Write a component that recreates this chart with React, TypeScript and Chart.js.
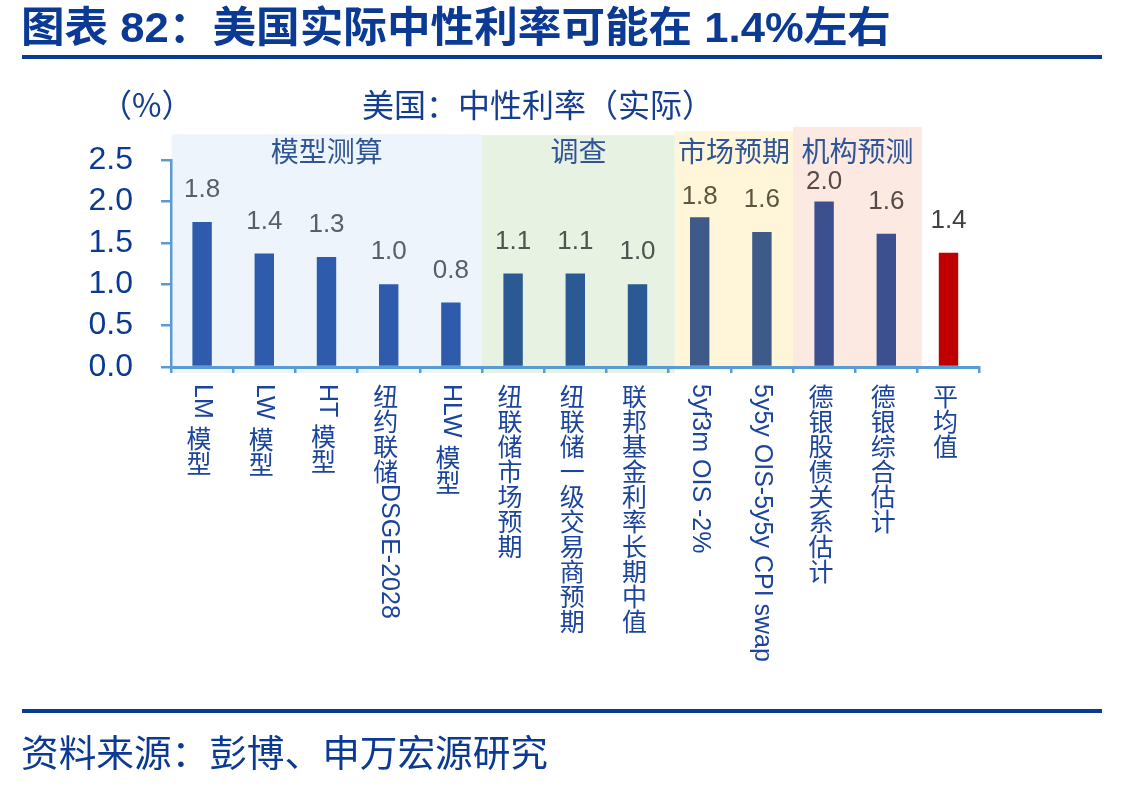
import React, { useEffect, useLayoutEffect, useRef } from 'react';
import { Chart, registerables } from 'chart.js';

Chart.register(...registerables);

// ---------- data ----------
const categories = [
  'LM 模型',
  'LW 模型',
  'HT 模型',
  '纽约联储DSGE-2028',
  'HLW 模型',
  '纽联储市场预期',
  '纽联储一级交易商预期',
  '联邦基金利率长期中值',
  '5yf3m OIS -2%',
  '5y5y OIS-5y5y CPI swap',
  '德银股债关系估计',
  '德银综合估计',
  '平均值',
];
const values = [1.75, 1.37, 1.33, 1.0, 0.78, 1.13, 1.13, 1.0, 1.81, 1.63, 2.0, 1.61, 1.38];
const valueLabels = ['1.8', '1.4', '1.3', '1.0', '0.8', '1.1', '1.1', '1.0', '1.8', '1.6', '2.0', '1.6', '1.4'];
const yTicks = [0, 0.5, 1.0, 1.5, 2.0, 2.5];
const groupNames = ['模型测算', '调查', '市场预期', '机构预测'];
// group extents in category-index units
const groupStart = [-0.49, 4.5, 7.6, 9.5];
const groupEnd = [4.5, 7.6, 9.5, 11.57];

// ---------- styles ----------
const DARK_BLUE = '#0B3A95';
const AXIS_BLUE = '#5B9BD5';
const barColors = [
  '#2E5BAC', '#2E5BAC', '#2E5BAC', '#2E5BAC', '#2E5BAC',
  '#2A5993', '#2A5993', '#2A5993',
  '#3E5A88', '#3E5A88',
  '#3C4F8E', '#3C4F8E',
  '#C00000',
];
const labelColors = [
  '#5A5F66', '#5A5F66', '#5A5F66', '#5A5F66', '#5A5F66',
  '#4C5550', '#4C5550', '#4C5550',
  '#5E5540', '#5E5540',
  '#574A47', '#574A47',
  '#404040',
];
const labelOffsets = [32, 32, 32, 32, 32, 32, 32, 32, 20, 32, 20, 32, 32];
const groupColors = ['#EDF4FB', '#E8F2E2', '#FFF6DA', '#FCEAE2'];
const groupTop = [2.81, 2.8, 2.85, 2.9];
const groupBottom = [-0.072, -0.072, -0.036, 0.0];
const groupLabelValue = 2.6;

const CJK_FONT = '"Noto Sans CJK SC"';
const LATIN_FONT = '"Liberation Sans", Arial';

const isCJK = (ch: string) => /[\u3000-\u9fff\uff00-\uffef]/.test(ch);

const bandsPlugin = {
  id: 'bands',
  beforeDraw(chart: any) {
    const { ctx, scales } = chart;
    const x = scales.x;
    const y = scales.y;
    ctx.save();
    for (let g = 0; g < groupNames.length; g++) {
      const x0 = x.getPixelForValue(groupStart[g]);
      const x1 = x.getPixelForValue(groupEnd[g]);
      const y0 = y.getPixelForValue(groupTop[g]);
      const y1 = y.getPixelForValue(groupBottom[g]);
      ctx.fillStyle = groupColors[g];
      ctx.fillRect(x0, y0, x1 - x0, y1 - y0);
    }
    ctx.font = `28px ${CJK_FONT}`;
    ctx.fillStyle = '#2F5597';
    ctx.textAlign = 'center';
    ctx.textBaseline = 'middle';
    for (let g = 0; g < groupNames.length; g++) {
      const cx = (x.getPixelForValue(groupStart[g]) + x.getPixelForValue(groupEnd[g])) / 2;
      ctx.fillText(groupNames[g], cx, y.getPixelForValue(groupLabelValue));
    }
    ctx.restore();
  },
};

const valueLabelPlugin = {
  id: 'valueLabels',
  afterDatasetsDraw(chart: any) {
    const { ctx } = chart;
    const meta = chart.getDatasetMeta(0);
    ctx.save();
    ctx.font = `26px ${LATIN_FONT}`;
    ctx.textAlign = 'center';
    ctx.textBaseline = 'middle';
    meta.data.forEach((bar: any, i: number) => {
      ctx.fillStyle = labelColors[i];
      ctx.fillText(valueLabels[i], bar.x, bar.y - labelOffsets[i]);
    });
    ctx.restore();
  },
};

const categoryLabelPlugin = {
  id: 'categoryLabels',
  afterDraw(chart: any) {
    const { ctx, chartArea, scales } = chart;
    const x = scales.x;
    ctx.save();
    ctx.fillStyle = '#1B449C';
    categories.forEach((label, i) => {
      const cx = x.getPixelForValue(i);
      let yy = chartArea.bottom + 17;
      // split into runs of upright CJK characters and rotated Latin text
      const runs: { cjk: boolean; text: string }[] = [];
      for (const ch of label) {
        const c = isCJK(ch);
        const last = runs[runs.length - 1];
        if (last && last.cjk === c && !c) last.text += ch;
        else runs.push({ cjk: c, text: ch });
      }
      for (const r of runs) {
        if (r.cjk) {
          ctx.font = `25px ${CJK_FONT}`;
          ctx.textAlign = 'center';
          ctx.textBaseline = 'middle';
          ctx.fillText(r.text, cx - 3, yy + 12.5);
          yy += 25;
        } else {
          ctx.font = `25px ${LATIN_FONT}`;
          ctx.textAlign = 'left';
          ctx.textBaseline = 'middle';
          ctx.save();
          ctx.translate(cx, yy);
          ctx.rotate(Math.PI / 2);
          ctx.fillText(r.text, 0, 0);
          ctx.restore();
          yy += ctx.measureText(r.text).width;
        }
      }
    });
    ctx.restore();
  },
};

function FitText(props: {
  text: string;
  left: number;
  top: number;
  width: number;
  size: number;
  weight?: number;
  color: string;
}) {
  const ref = useRef<HTMLSpanElement>(null);
  useLayoutEffect(() => {
    const el = ref.current;
    if (!el) return;
    el.style.transform = 'none';
    const w = el.getBoundingClientRect().width;
    if (w > 0) el.style.transform = `scaleX(${props.width / w})`;
  }, [props.text, props.width]);
  return (
    <span
      ref={ref}
      style={{
        position: 'absolute',
        left: props.left,
        top: props.top,
        fontSize: props.size,
        lineHeight: `${props.size}px`,
        fontWeight: props.weight ?? 400,
        color: props.color,
        whiteSpace: 'nowrap',
        transformOrigin: 'left top',
        fontFamily: `${LATIN_FONT}, ${CJK_FONT}, sans-serif`,
      }}
    >
      {props.text}
    </span>
  );
}

export default function App() {
  const canvasRef = useRef<HTMLCanvasElement>(null);

  useEffect(() => {
    const canvas = canvasRef.current;
    if (!canvas) return;
    const chart = new Chart(canvas, {
      type: 'bar',
      data: {
        labels: categories,
        datasets: [
          {
            data: values,
            backgroundColor: barColors,
            borderWidth: 0,
            categoryPercentage: 1,
            barPercentage: 0.312,
          },
        ],
      },
      options: {
        animation: false,
        responsive: false,
        devicePixelRatio: 1,
        layout: { padding: { left: 0, right: 143.4, top: 160, bottom: 0 } },
        plugins: {
          legend: { display: false },
          tooltip: { enabled: false },
          title: { display: false },
        },
        scales: {
          x: {
            type: 'category',
            offset: true,
            afterFit: (s: any) => {
              s.height = 787 - 367;
            },
            ticks: { display: false },
            grid: {
              offset: true,
              drawOnChartArea: false,
              drawTicks: true,
              tickLength: 6,
              color: AXIS_BLUE,
              lineWidth: 2.5,
            },
            border: { display: true, color: AXIS_BLUE, width: 3 },
          },
          y: {
            type: 'linear',
            min: 0,
            max: 2.5,
            afterFit: (s: any) => {
              s.width = 171;
            },
            afterBuildTicks: (s: any) => {
              s.ticks = yTicks.map((v) => ({ value: v }));
            },
            ticks: {
              padding: 28,
              color: DARK_BLUE,
              font: { family: LATIN_FONT, size: 32 },
              callback: (v: any) => Number(v).toFixed(1),
            },
            grid: {
              drawOnChartArea: false,
              drawTicks: true,
              tickLength: 10,
              color: AXIS_BLUE,
              lineWidth: 2.5,
            },
            border: { display: true, color: AXIS_BLUE, width: 2.5 },
          },
        },
      },
      plugins: [bandsPlugin, valueLabelPlugin, categoryLabelPlugin],
    });
    return () => chart.destroy();
  }, []);

  return (
    <div
      style={{
        position: 'absolute',
        left: 0,
        top: 0,
        width: 1123,
        height: 787,
        background: '#ffffff',
        overflow: 'hidden',
        fontFamily: `${CJK_FONT}, sans-serif`,
      }}
    >
      <canvas
        ref={canvasRef}
        width={1123}
        height={787}
        style={{ position: 'absolute', left: 0, top: 0, width: 1123, height: 787 }}
      />
      <FitText
        text="图表 82：美国实际中性利率可能在 1.4%左右"
        left={21}
        top={7}
        width={870}
        size={42}
        weight={700}
        color={DARK_BLUE}
      />
      <div style={{ position: 'absolute', left: 22, top: 55, width: 1080, height: 4, background: DARK_BLUE }} />
      <span
        style={{
          position: 'absolute',
          left: 100,
          top: 87,
          fontSize: 32,
          lineHeight: '32px',
          color: '#163E8E',
          whiteSpace: 'nowrap',
          fontFamily: `${CJK_FONT}, sans-serif`,
        }}
      >
        （%）
      </span>
      <span
        style={{
          position: 'absolute',
          left: 362,
          top: 87,
          fontSize: 32,
          lineHeight: '32px',
          color: '#163E8E',
          whiteSpace: 'nowrap',
          fontFamily: `${CJK_FONT}, sans-serif`,
        }}
      >
        美国：中性利率（实际）
      </span>
      <div style={{ position: 'absolute', left: 22, top: 709, width: 1080, height: 4, background: DARK_BLUE }} />
      <FitText text="资料来源：彭博、申万宏源研究" left={21} top={736} width={527} size={37} color={DARK_BLUE} />
    </div>
  );
}
